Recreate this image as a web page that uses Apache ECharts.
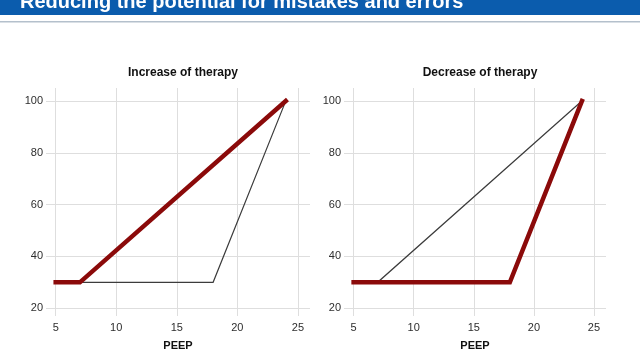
<!DOCTYPE html>
<html>
	<head>
		<meta charset="utf-8" />
		<title></title>
		<script src="https://cdn.jsdelivr.net/npm/echarts@6/dist/echarts.min.js" type="text/javascript" charset="utf-8"></script>
		<style type="text/css">
			html, body {
				margin: 0;
				padding: 0;
				background: #fff;
			}
		</style>
	</head>
	<body>
		<div id="chart" style="width: 640px;height: 360px;"></div>
		<script type="text/javascript">
			var bannerText = "Reducing the potential for mistakes and errors";
			var panelTitles = ["Increase of therapy", "Decrease of therapy"];
			var xName = "PEEP";

			// increase: early step up, decrease: late step down
			var increasePeep = [5, 7, 24];
			var increaseValue = [30, 30, 100];
			var decreasePeep = [5, 18, 24];
			var decreaseValue = [30, 30, 100];

			var xRange = [4.2, 26];
			var yRange = [17, 105];

			function pairs(xs, ys){
				var out = [];
				for ( var i = 0 ; i < xs.length ; i ++ ){
					out.push([xs[i], ys[i]]);
				}
				return out;
			}

			var font = "Liberation Sans, Arial, sans-serif";
			var red = "#8b0a0a";
			var grey = "#3c3c3c";

			function xAxis(idx){
				return {
					type: 'value',
					gridIndex: idx,
					min: xRange[0],
					max: xRange[1],
					name: xName,
					nameLocation: 'middle',
					nameGap: 24,
					nameTextStyle: {color: '#111', fontSize: 11, fontWeight: 'bold', fontFamily: font},
					axisLine: {show: false},
					axisTick: {show: false},
					axisLabel: {color: '#2e2e2e', fontSize: 11, fontFamily: font, margin: 6, showMinLabel: false, showMaxLabel: false},
					splitLine: {show: true, showMinLine: false, showMaxLine: false, lineStyle: {color: '#dedede', width: 1}}
				};
			}
			function yAxis(idx){
				return {
					type: 'value',
					gridIndex: idx,
					min: yRange[0],
					max: yRange[1],
					axisLine: {show: false},
					axisTick: {show: false},
					axisLabel: {color: '#2e2e2e', fontSize: 11, fontFamily: font, margin: 3, showMinLabel: false, showMaxLabel: false},
					splitLine: {show: true, showMinLine: false, showMaxLine: false, lineStyle: {color: '#dedede', width: 1}}
				};
			}
			function line(idx, data, color, width, z){
				return {
					type: 'line',
					xAxisIndex: idx,
					yAxisIndex: idx,
					data: data,
					symbol: 'none',
					z: z,
					animation: false,
					lineStyle: {color: color, width: width, cap: 'square', join: 'miter'}
				};
			}

			var incData = pairs(increasePeep, increaseValue);
			var decData = pairs(decreasePeep, decreaseValue);

			var chart = echarts.init(document.getElementById("chart"));
			chart.setOption({
				backgroundColor: '#fff',
				animation: false,
				title: [
					{text: panelTitles[0], left: 178, top: 62, textAlign: 'center',
					 textStyle: {fontSize: 12, fontWeight: 'bold', color: '#111', fontFamily: font}},
					{text: panelTitles[1], left: 475, top: 62, textAlign: 'center',
					 textStyle: {fontSize: 12, fontWeight: 'bold', color: '#111', fontFamily: font}}
				],
				graphic: [
					{type: 'rect', shape: {x: 0, y: 0, width: 640, height: 15}, style: {fill: '#0b5cad'}},
					{type: 'rect', shape: {x: 0, y: 21, width: 640, height: 1.5}, style: {fill: '#b4c0cc'}},
					{type: 'text', x: 20, y: 2, style: {text: bannerText, fill: '#fff', font: 'bold 20px ' + font, verticalAlign: 'middle'}}
				],
				grid: [
					{left: 46, top: 88, width: 264, height: 228},
					{left: 344, top: 88, width: 262, height: 228}
				],
				xAxis: [xAxis(0), xAxis(1)],
				yAxis: [yAxis(0), yAxis(1)],
				series: [
					line(0, decData, grey, 1.2, 2),
					line(0, incData, red, 4.5, 3),
					line(1, incData, grey, 1.2, 2),
					line(1, decData, red, 4.5, 3)
				]
			});
		</script>
	</body>
</html>
